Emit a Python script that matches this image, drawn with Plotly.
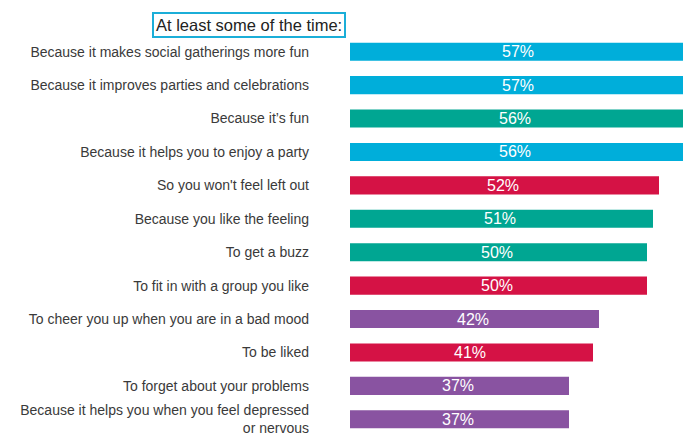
import plotly.graph_objects as go

# reasons, top to bottom as in the picture
reasons = [
    "Because it makes social gatherings more fun",
    "Because it improves parties and celebrations",
    "Because it\u2019s fun",
    "Because it helps you to enjoy a party",
    "So you won't feel left out",
    "Because you like the feeling",
    "To get a buzz",
    "To fit in with a group you like",
    "To cheer you up when you are in a bad mood",
    "To be liked",
    "To forget about your problems",
    "Because it helps you when you feel depressed<br>or nervous",
]
values = [57, 57, 56, 56, 52, 51, 50, 50, 42, 41, 37, 37]
groups = ["social", "social", "enhance", "social", "conform", "enhance",
          "enhance", "conform", "coping", "conform", "coping", "coping"]

group_colors = {
    "social": "#00AEDA",
    "enhance": "#00A692",
    "conform": "#D51245",
    "coping": "#8953A1",
}
colors = [group_colors[g] for g in groups]

FONT = "Liberation Sans, Arial, sans-serif"

fig = go.Figure()
fig.add_trace(go.Bar(
    x=values,
    y=reasons,
    orientation="h",
    marker=dict(color=colors, line=dict(width=0)),
    width=0.54,
    text=[f"{v}%" for v in values],
    textposition="inside",
    insidetextanchor="middle",
    constraintext="none",
    textangle=0,
    textfont=dict(family=FONT, size=16, color="white"),
    cliponaxis=True,
    hoverinfo="skip",
))

fig.update_layout(
    width=683,
    height=437,
    margin=dict(l=350, r=0, t=35, b=1),
    paper_bgcolor="white",
    plot_bgcolor="white",
    showlegend=False,
    font=dict(family=FONT, size=14, color="#3a3a3a"),
    annotations=[dict(
        text="At least some of the time:",
        xref="paper", yref="paper",
        x=-0.012, y=0.992,
        xanchor="right", yanchor="bottom",
        showarrow=False,
        font=dict(family=FONT, size=16.5, color="#222222"),
        bordercolor="#1BAED8",
        borderwidth=2,
        borderpad=2,
        bgcolor="white",
    )],
)

fig.update_xaxes(range=[0.5, 56.0], visible=False, fixedrange=True)
fig.update_yaxes(
    autorange="reversed",
    showgrid=False,
    showline=False,
    ticks="",
    ticklabelstandoff=40,
    tickfont=dict(family=FONT, size=14, color="#3a3a3a"),
    fixedrange=True,
)

# drop the default body margin so the figure fills the window
fig.write_html("out.html",
               config={"displayModeBar": False},
               post_script="document.body.style.margin='0';document.body.style.overflow='hidden';")
